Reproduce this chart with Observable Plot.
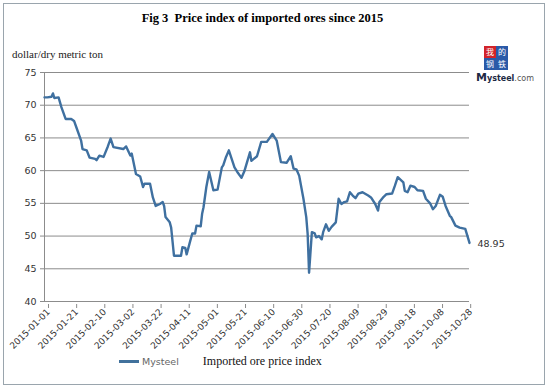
<!DOCTYPE html>
<html><head><meta charset="utf-8">
<script src="https://cdn.jsdelivr.net/npm/d3@7"></script>
<script src="https://cdn.jsdelivr.net/npm/@observablehq/plot@0.6"></script>
<style>
body{margin:0;background:#fff;}
#wrap{position:relative;width:550px;height:388px;overflow:hidden;background:#fff;}
#border{position:absolute;left:3px;top:3px;width:542px;height:382px;border:1px solid #9aa5ad;box-sizing:border-box;}
#title{position:absolute;left:0;top:11px;width:525px;text-align:center;font-family:"Liberation Serif",serif;font-weight:bold;font-size:12.5px;color:#000;}
#unit{position:absolute;left:12px;top:48px;font-family:"Liberation Serif",serif;font-size:11px;color:#222;}
#legend{position:absolute;left:119px;top:354px;font-family:"DejaVu Sans",sans-serif;font-size:9.5px;color:#666;display:flex;align-items:center;}
#legend .sw{width:20px;height:2.5px;background:#41719c;margin-right:3px;}
#legend .nm{font-family:"Liberation Serif",serif;font-size:12px;color:#111;margin-left:24px;}
#logo{position:absolute;left:476px;top:46px;width:60px;height:38px;}
#logo .b{position:absolute;width:12px;height:12px;font-size:8px;line-height:12px;text-align:center;color:#fff;font-family:"Noto Sans CJK SC",sans-serif;}
#logo .m{position:absolute;left:0;top:25px;font-family:"DejaVu Sans",sans-serif;font-size:8px;color:#222;white-space:nowrap;}
#chart{position:absolute;left:0;top:0;}
</style></head>
<body><div id="wrap">
<div id="border"></div>
<div id="title">Fig 3&nbsp;&nbsp;Price index of imported ores since 2015</div>
<div id="unit">dollar/dry metric ton</div>
<div id="logo">
  <div class="b" style="left:8px;top:0;background:#d2232a;">我</div>
  <div class="b" style="left:20px;top:0;background:#2a5aa8;">的</div>
  <div class="b" style="left:8px;top:12px;background:#2a5aa8;">钢</div>
  <div class="b" style="left:20px;top:12px;background:#2a5aa8;">铁</div>
  <div class="m"><b style="font-size:11px;color:#1d2a44">M</b><b style="color:#1d2a44">ysteel</b><span style="color:#555">.com</span></div>
</div>
<div id="chart"></div>
<div id="legend"><div class="sw"></div><span>Mysteel</span><span class="nm">Imported ore price index</span></div>
</div>
<script>
const dates = ["2015-01-01","2015-01-03","2015-01-06","2015-01-07","2015-01-08","2015-01-11","2015-01-13","2015-01-16","2015-01-20","2015-01-22","2015-01-24","2015-01-27","2015-01-28","2015-01-31",
"2015-02-02","2015-02-06","2015-02-07","2015-02-09","2015-02-12","2015-02-15","2015-02-17","2015-02-19","2015-02-26","2015-02-28",
"2015-03-03","2015-03-04","2015-03-07","2015-03-10","2015-03-12","2015-03-13","2015-03-17","2015-03-19","2015-03-21","2015-03-24","2015-03-26","2015-03-27","2015-03-28","2015-03-31",
"2015-04-01","2015-04-03","2015-04-08","2015-04-09","2015-04-11","2015-04-12","2015-04-14","2015-04-16","2015-04-18","2015-04-19","2015-04-22","2015-04-23","2015-04-24","2015-04-26","2015-04-28",
"2015-05-01","2015-05-04","2015-05-07","2015-05-08","2015-05-10","2015-05-12","2015-05-16","2015-05-18","2015-05-21","2015-05-23","2015-05-27","2015-05-28",
"2015-06-01","2015-06-04","2015-06-08","2015-06-12","2015-06-15","2015-06-18","2015-06-22","2015-06-25","2015-06-27","2015-06-29",
"2015-07-01","2015-07-04","2015-07-06","2015-07-07","2015-07-08","2015-07-10","2015-07-12","2015-07-13","2015-07-15","2015-07-17","2015-07-18","2015-07-20","2015-07-22","2015-07-24","2015-07-27","2015-07-29","2015-07-31",
"2015-08-02","2015-08-04","2015-08-06","2015-08-08","2015-08-10","2015-08-12","2015-08-15","2015-08-19","2015-08-21","2015-08-24","2015-08-26","2015-08-27","2015-08-30",
"2015-09-01","2015-09-05","2015-09-07","2015-09-09","2015-09-13","2015-09-14","2015-09-16","2015-09-18","2015-09-21","2015-09-23","2015-09-27","2015-09-29",
"2015-10-02","2015-10-04","2015-10-06","2015-10-09","2015-10-11","2015-10-13","2015-10-16","2015-10-17","2015-10-20","2015-10-23","2015-10-27","2015-10-30"];
const values = [71.2,71.2,71.3,71.8,71.1,71.2,69.7,67.9,67.9,67.6,66.4,64.6,63.3,63.1,
62.0,61.8,61.6,62.3,62.1,63.7,64.9,63.6,63.3,63.7,
62.3,62.6,59.5,59.1,57.5,58.0,58.0,55.9,54.6,54.9,55.2,54.6,52.9,52.1,
51.3,47.0,47.0,48.3,48.2,47.2,48.8,50.4,50.4,51.6,51.5,53.4,54.4,57.5,59.8,
57.0,57.1,60.5,60.8,62.1,63.1,60.5,59.8,58.9,59.9,62.8,61.5,
62.2,64.4,64.4,65.6,64.6,61.3,61.2,62.2,60.3,60.2,
59.2,55.7,52.9,50.3,44.4,50.6,50.4,49.8,50.0,49.5,50.6,51.8,50.8,51.4,52.1,55.7,54.9,
55.2,55.3,56.7,56.2,55.8,56.5,56.7,56.2,55.9,54.9,53.9,55.2,56.0,
56.4,56.5,57.7,59.0,58.2,56.9,56.7,57.7,57.5,57.0,56.9,55.7,
55.0,54.1,54.6,56.3,56.0,54.6,53.1,52.9,51.6,51.3,51.1,48.95];
const xTickLabels = ["2015-01-01","2015-01-21","2015-02-10","2015-03-02","2015-03-22","2015-04-11","2015-05-01","2015-05-21","2015-06-10","2015-06-30","2015-07-20","2015-08-09","2015-08-29","2015-09-18","2015-10-08","2015-10-28"];
const yTicks = [40,45,50,55,60,65,70,75];
const lastLabel = "48.95";

const parse = d3.utcParse("%Y-%m-%d");
const fmt = d3.utcFormat("%Y-%m-%d");
const data = dates.map((d,i)=>({date:parse(d), value:values[i]}));
const last = data[data.length-1];

const chart = Plot.plot({
  width:550, height:388,
  marginLeft:44, marginRight:81, marginTop:72, marginBottom:87,
  x:{type:"utc", domain:[parse("2015-01-01"), parse("2015-10-30")]},
  y:{domain:[40,75]},
  style:{fontFamily:"DejaVu Sans, sans-serif", fontSize:"9.5px", color:"#333", background:"transparent", overflow:"visible"},
  marks:[
    Plot.ruleY(yTicks, {stroke:"#8c8c8c", strokeWidth:1}),
    Plot.ruleX([parse("2015-01-01")], {stroke:"#8c8c8c", strokeWidth:1}),
    Plot.axisY({ticks:yTicks, tickSize:4, tickPadding:4, label:null, stroke:"#8c8c8c", color:"#333"}),
    Plot.axisX({ticks:xTickLabels.map(parse), tickSize:4, tickPadding:2, tickRotate:-45, tickFormat:fmt, label:null, stroke:"#8c8c8c", color:"#333", fontSize:9, dx:4, dy:3}),
    Plot.line(data, {x:"date", y:"value", stroke:"#3f70a0", strokeWidth:2.4, strokeLinejoin:"round"}),
    Plot.text([last], {x:"date", y:"value", text:()=>lastLabel, dx:8, dy:1, textAnchor:"start", fill:"#333"})
  ]
});
document.getElementById("chart").appendChild(chart);
</script>
</body></html>
